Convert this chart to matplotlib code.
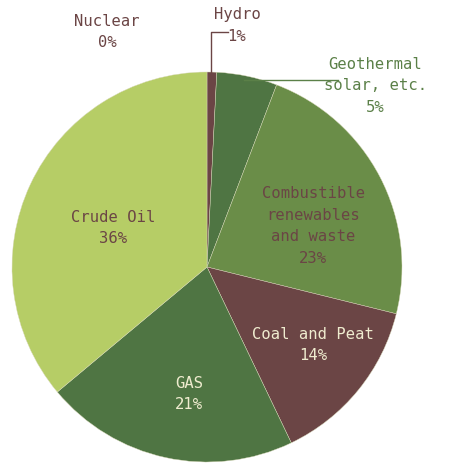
import matplotlib.pyplot as plt

# energy mix, clockwise from 12 o'clock
sources = ["Nuclear", "Hydro", "Geothermal\nsolar, etc.", "Combustible\nrenewables\nand waste",
           "Coal and Peat", "GAS", "Crude Oil"]
shares = [0, 0.8, 5, 23, 14, 21, 36]
pct_labels = ["0%", "1%", "5%", "23%", "14%", "21%", "36%"]
colors = ["#6b4545", "#6b4545", "#4f7543", "#6a8d48", "#6b4545", "#4f7543", "#b6cd66"]

brown = "#6b4545"
green = "#5b8048"
cream = "#efeccf"

fig = plt.figure(figsize=(4.51, 4.64), dpi=100)
ax = fig.add_axes([12 / 451, 1 / 464, 390 / 451, 390 / 464])

ax.pie(shares, colors=colors, startangle=90, counterclock=False, radius=1,
       wedgeprops=dict(edgecolor="#d8d8b8", linewidth=0.3))
ax.set_xlim(-1, 1)
ax.set_ylim(-1, 1)
ax.set_aspect("equal")
ax.axis("off")

font = dict(family="DejaVu Sans Mono", fontsize=11.2, ha="center", va="center",
            linespacing=1.55)

# label positions in pie units (radius = 1)
label_pos = [(-0.513, 1.21), (0.154, 1.245), (0.862, 0.935), (0.544, 0.215),
             (0.544, -0.395), (-0.092, -0.646), (-0.482, 0.205)]
label_col = [brown, brown, green, brown, cream, cream, brown]

for name, pct, (x, y), c in zip(sources, pct_labels, label_pos, label_col):
    ax.text(x, y, f"{name}\n{pct}", color=c, **font)

# leader lines
ax.plot([0.0205, 0.0205, 0.108], [0.99, 1.205, 1.205], color=brown, lw=1, clip_on=False)
ax.plot([0.19, 0.672], [0.959, 0.959], color=green, lw=1, clip_on=False)

fig.savefig("out.png", dpi=100)
